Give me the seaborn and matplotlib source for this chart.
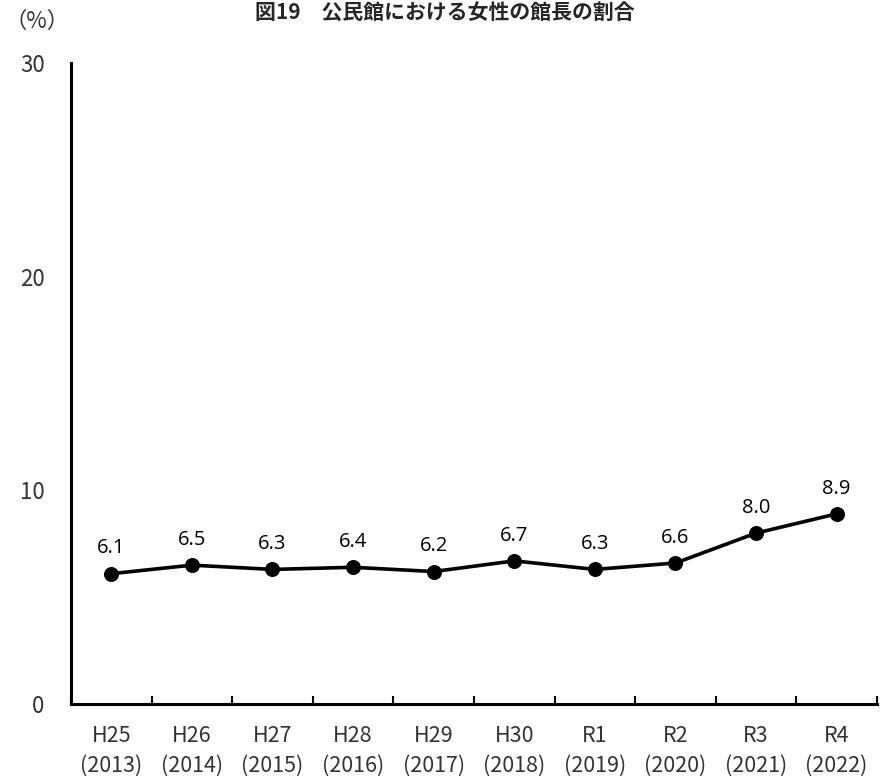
import matplotlib
matplotlib.use("Agg")
import matplotlib.pyplot as plt
import seaborn as sns
import pandas as pd
import numpy as np
from matplotlib.ticker import FixedLocator

era_labels = ["H25", "H26", "H27", "H28", "H29", "H30", "R1", "R2", "R3", "R4"]
years = ["2013", "2014", "2015", "2016", "2017", "2018", "2019", "2020", "2021", "2022"]
ratio = [6.1, 6.5, 6.3, 6.4, 6.2, 6.7, 6.3, 6.6, 8.0, 8.9]
y_ticks = [0, 10, 20, 30]

sns.set_theme(style="white")
plt.rcParams["font.family"] = ["Noto Sans CJK JP", "DejaVu Sans"]

df = pd.DataFrame({"pos": np.arange(len(ratio)), "ratio": ratio})

fig = plt.figure(figsize=(8.86, 7.8), dpi=100)
ax = fig.add_axes([0.0801, 0.0974, 0.9097, 0.8218])

sns.lineplot(data=df, x="pos", y="ratio", ax=ax, color="black", linewidth=2.6,
             marker="o", markersize=10, markeredgecolor="black", zorder=3)

for x, v in zip(df["pos"], df["ratio"]):
    ax.annotate(f"{v:.1f}", (x, v), xytext=(0, 11), textcoords="offset points",
                ha="center", va="bottom", fontsize=14.5, family=["Open Sans", "DejaVu Sans"],
                color="black")

ax.set_xlim(-0.5, len(ratio) - 0.5)
ax.set_ylim(0, 30)
ax.set_yticks(y_ticks)
ax.set_yticklabels([str(t) for t in y_ticks], fontsize=16, color="#333333")
ax.tick_params(axis="y", length=0, pad=19)

ax.set_xticks(df["pos"])
ax.set_xticklabels([f"{e}\n({y})" for e, y in zip(era_labels, years)],
                   fontsize=15.5, color="#333333", linespacing=1.45)
ax.tick_params(axis="x", which="major", length=0, pad=15)
ax.xaxis.set_minor_locator(FixedLocator(np.arange(-0.5, len(ratio), 1.0)))
ax.tick_params(axis="x", which="minor", direction="in", length=6, width=1.5,
               color="black", bottom=True)

for side in ["top", "right"]:
    ax.spines[side].set_visible(False)
for side in ["left", "bottom"]:
    ax.spines[side].set_color("black")
    ax.spines[side].set_linewidth(2.2)

ax.set_xlabel("")
ax.set_ylabel("")
ax.grid(False)

fig.text(0.502, 0.998, "図19　公民館における女性の館長の割合", ha="center", va="top",
         fontsize=15, fontweight="bold")
fig.text(0.042, 0.972, "（%）", ha="center", va="center", fontsize=16, color="#333333")

fig.savefig("out.png", dpi=100)
